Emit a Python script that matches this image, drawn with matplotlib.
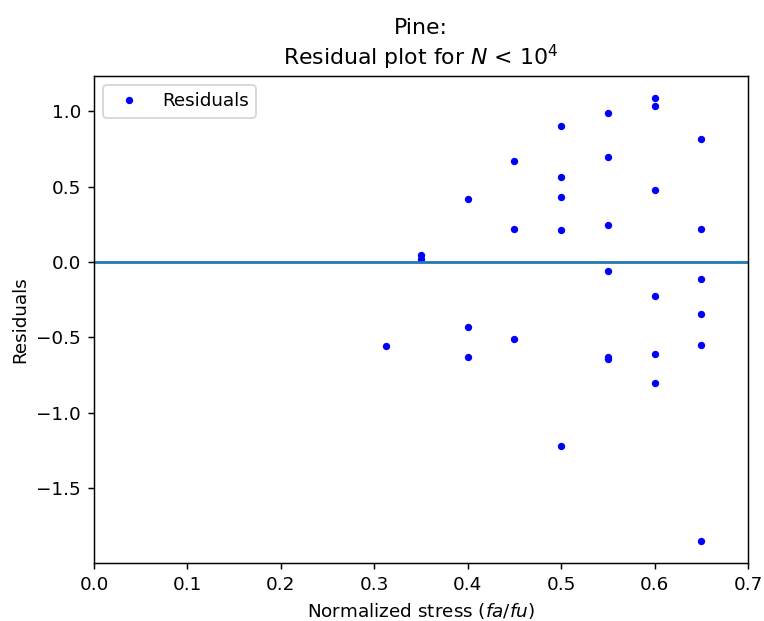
import matplotlib
matplotlib.use("Agg")
import matplotlib.pyplot as plt

stress = [0.3125, 0.35, 0.35,
          0.4, 0.4, 0.4,
          0.45, 0.45, 0.45,
          0.5, 0.5, 0.5, 0.5, 0.5,
          0.55, 0.55, 0.55, 0.55, 0.55, 0.55,
          0.6, 0.6, 0.6, 0.6, 0.6, 0.6,
          0.65, 0.65, 0.65, 0.65, 0.65, 0.65]
residuals = [-0.556, 0.046, 0.018,
             0.417, -0.43, -0.63,
             0.669, 0.219, -0.51,
             0.904, 0.563, 0.43, 0.212, -1.219,
             0.989, 0.693, 0.247, -0.058, -0.628, -0.640,
             1.086, 1.033, 0.477, -0.223, -0.609, -0.801,
             0.815, 0.22, -0.11, -0.346, -0.547, -1.848]

DPI = 132
fig = plt.figure(figsize=(764 / DPI, 621 / DPI), dpi=DPI)
ax = fig.add_axes([94 / 764, 1 - 563 / 621, (748 - 94) / 764, (563 - 76) / 621])
ax.plot(stress, residuals, 'b.', label='Residuals')
ax.axhline(0)
ax.set_xlim(0, 0.7)
ax.set_xlabel('Normalized stress ($fa/fu$)')
ax.set_ylabel('Residuals')
ax.set_title('Pine:\nResidual plot for $N$ < $10^4$')
ax.legend(loc='upper left')
fig.savefig('out.png', dpi=DPI)
